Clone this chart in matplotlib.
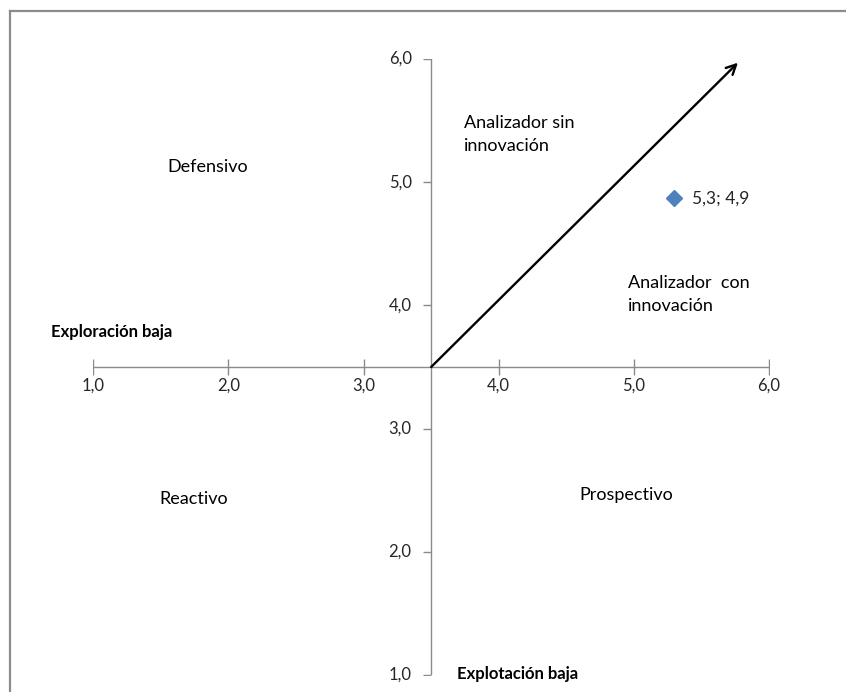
import matplotlib
matplotlib.use("Agg")
import matplotlib.pyplot as plt
from matplotlib.lines import Line2D

plt.rcParams['font.family'] = ['Lato', 'DejaVu Sans']

# Data
x_ticks = [1.0, 2.0, 3.0, 4.0, 5.0, 6.0]
y_ticks = [1.0, 2.0, 3.0, 4.0, 5.0, 6.0]
tick_labels = ["1,0", "2,0", "3,0", "4,0", "5,0", "6,0"]
cross = 3.5
point_x = [5.3]
point_y = [4.87]
point_label = "5,3; 4,9"
arrow_start = (3.5, 3.5)
arrow_end = (5.77, 5.97)
quadrant_labels = ["Defensivo", "Reactivo", "Prospectivo"]
quadrant_pos = [(1.85, 5.12), (1.74, 2.43), (4.94, 2.46)]
analyzer_labels = ["Analizador sin\ninnovación", "Analizador  con\ninnovación"]
analyzer_pos = [(3.74, 5.385), (4.96, 4.09)]

fig = plt.figure(figsize=(8.46, 6.92), dpi=100)
fig.patch.set_facecolor('white')

# outer frame (left and top edges visible)
fig.add_artist(Line2D([10/846, 10/846], [0, 1 - 11/692], transform=fig.transFigure,
                      color='#8c8c8c', lw=1.6))
fig.add_artist(Line2D([10/846, 1], [1 - 11/692, 1 - 11/692], transform=fig.transFigure,
                      color='#8c8c8c', lw=1.6))

left, right = 93.3/846, 769/846
bottom, top = 1 - 675/692, 1 - 59/692
ax = fig.add_axes([left, bottom, right - left, top - bottom])
ax.set_xlim(1, 6)
ax.set_ylim(1, 6)
ax.axis('off')

axcol = '#8a8a8a'
txtcol = '#262626'
# horizontal axis
ax.plot([1, 6], [cross, cross], color=axcol, lw=1.0, zorder=1)
# vertical axis
ax.plot([cross, cross], [1, 6], color=axcol, lw=1.0, zorder=1)

# x ticks (crossing the axis)
for xv, lab in zip(x_ticks, tick_labels):
    ax.plot([xv], [cross], marker='|', markersize=12, color=axcol, mew=1.0, zorder=1)
    ax.annotate(lab, xy=(xv, cross), xytext=(0, -19), textcoords='offset pixels',
                ha='center', va='center', fontsize=12, color=txtcol)
# y ticks (outside, to the left)
for yv, lab in zip(y_ticks, tick_labels):
    ax.plot([cross], [yv], marker=0, markersize=6, color=axcol, mew=1.0, zorder=1)
    ax.annotate(lab, xy=(cross, yv), xytext=(-31, 0), textcoords='offset pixels',
                ha='center', va='center', fontsize=12, color=txtcol)

# arrow
ax.annotate('', xy=arrow_end, xytext=arrow_start,
            arrowprops=dict(arrowstyle='->,head_length=0.7,head_width=0.35',
                            color='black', lw=1.7, shrinkA=0, shrinkB=0))

# point
ax.plot(point_x, point_y, marker='D', markersize=8, color='#4F81BD', linestyle='none', zorder=3)
ax.annotate(point_label, xy=(point_x[0], point_y[0]), xytext=(18, 0),
            textcoords='offset pixels', ha='left', va='center', fontsize=12.5, color=txtcol)

for lab, (xv, yv) in zip(quadrant_labels, quadrant_pos):
    ax.text(xv, yv, lab, ha='center', va='center', fontsize=13, color='black')
for lab, (xv, yv) in zip(analyzer_labels, analyzer_pos):
    ax.text(xv, yv, lab, ha='left', va='center', fontsize=13, color='black', linespacing=1.55)

ax.text(0.687, 3.784, "Exploración baja", ha='left', va='center', fontsize=12,
        fontweight='bold', color='black', clip_on=False)
ax.text(3.692, 1.008, "Explotación baja", ha='left', va='center', fontsize=12,
        fontweight='bold', color='black', clip_on=False)

fig.savefig('out.png', dpi=100, facecolor='white')
